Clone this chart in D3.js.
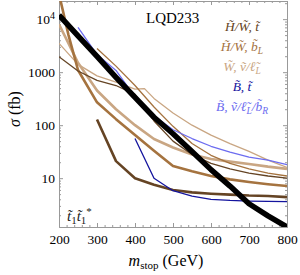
<!DOCTYPE html>
<html><head><meta charset="utf-8">
<script src="https://cdn.jsdelivr.net/npm/d3@7"></script>
<style>
html,body{margin:0;padding:0;background:#fff;}
svg text{font-family:"Liberation Serif","Times New Roman",serif;}
</style></head>
<body><svg id="c" width="300" height="275"></svg>
<script>
// ---- data ----
const xTicks = [200,300,400,500,600,700,800];
const yTicks = [10,100,1000,10000];
const yTickLabels = ["10","100","1000","10^4"];

const blackM = [200,250,300,350,400,450,500,550,600,650,700,750,800];
const blackV = [11900,4860,1980,800,334,141,69,32,14.5,7.1,3.3,1.95,1.2];

const lightBlueM = [250,300,350,400,450,500,550,600,650,700,750,800];
const lightBlueV = [7000,2150,1080,340,150,82,56,40,31,25,22,18];

const darkBlueM = [400,450,500,550,600,650,700,750,800];
const darkBlueV = [56,10,5.8,4.6,4.0,3.8,3.7,3.65,3.6];

const darkBrownThickM = [300,350,400,450,500,550,600,650,700,750,800];
const darkBrownThickV = [128,21,10,7.5,6.0,5.4,5.1,4.9,4.7,4.6,4.4];

const darkBrownThinM = [200,250,300,350,400,450,500,550,600,650,700,750,800];
const darkBrownThinV = [1950,1050,700,560,380,120,50,28,19,15,12.5,11,10];

const medBrownThickM = [200,225,250,300,350,400,450,500,550,600,650,700,750,800];
const medBrownThickV = [30000,5000,1100,270,130,65,33,17,13.5,11,9.5,8.5,7.7,7.1];

const medBrownThinM = [300,350,400,450,500,550,600,650,700,750,800];
const medBrownThinV = [2800,1300,560,220,95,45,27,19,15,12.5,11];

const tanThickM = [200,225,250,300,350,400,450,500,550,600,650,700,750,800];
const tanThickV = [8000,3500,1500,450,200,100,55,38,28,23,20.5,18.5,16.5,15];

const tanThinM = [200,250,300,350,400,425,450,500,550,600,650,700,750,800];
const tanThinV = [3500,1400,850,650,480,490,320,170,100,65,45,32,22,16];

const legendLabels = ["H̃/W̃, t̃","H̃/W̃, b̃L","W̃, ṽ/ℓ̃L","B̃, t̃","B̃, ṽ/ℓ̃L/b̃R"];
const legendColors = ["#654424","#a5733f","#c9a683","#14149e","#6c6cf0"];

// ---- chart ----
const svg = d3.select("#c");
const L=59,R=287,T=1,B=227;
const x = d3.scaleLinear().domain([200,800]).range([L,R]);
const y = d3.scaleLog().domain([1.2,22000]).range([B,T]);

svg.append("defs").append("clipPath").attr("id","clip")
  .append("rect").attr("x",L).attr("y",T).attr("width",R-L).attr("height",B-T);

const xMinor = d3.range(200,801,20).filter(v=>v%100!==0);
const yMinor = [];
[1,10,100,1000,10000].forEach(d=>{for(let k=2;k<=9;k++){const v=d*k; if(v>1.2&&v<22000) yMinor.push(v);}});

const axisColor="#999";
function styleAxis(g){
  g.selectAll("path.domain").attr("stroke",axisColor).attr("stroke-width",1);
  g.selectAll(".tick line").attr("stroke",axisColor);
  g.selectAll("text").attr("fill","#000").style("font-family","Liberation Serif, serif");
}
// bottom
const gxb = svg.append("g").attr("transform",`translate(0,${B})`)
  .call(d3.axisBottom(x).tickValues(xTicks).tickSize(-4).tickSizeOuter(0).tickPadding(7).tickFormat(d3.format("d")));
gxb.attr("font-size",13.5); styleAxis(gxb);
svg.append("g").attr("transform",`translate(0,${B})`)
  .call(d3.axisBottom(x).tickValues(xMinor).tickSize(-2).tickSizeOuter(0).tickFormat("")).call(styleAxis);
// top
svg.append("g").attr("transform",`translate(0,${T})`)
  .call(d3.axisTop(x).tickValues(xTicks).tickSize(-4).tickSizeOuter(0).tickFormat("")).call(styleAxis);
svg.append("g").attr("transform",`translate(0,${T})`)
  .call(d3.axisTop(x).tickValues(xMinor).tickSize(-2).tickSizeOuter(0).tickFormat("")).call(styleAxis);
// left
const gyl = svg.append("g").attr("transform",`translate(${L},0)`)
  .call(d3.axisLeft(y).tickValues(yTicks).tickSize(-4).tickSizeOuter(0).tickPadding(4)
    .tickFormat((d,i)=>yTickLabels[i]));
gyl.attr("font-size",13.5); styleAxis(gyl);
gyl.selectAll(".tick text").each(function(d,i){
  const lab=yTickLabels[i];
  if(lab.includes("^")){
    const [base,exp]=lab.split("^");
    const t=d3.select(this).text("");
    t.append("tspan").text(base);
    t.append("tspan").attr("dy","-0.45em").attr("font-size","10px").text(exp);
  }
});
svg.append("g").attr("transform",`translate(${L},0)`)
  .call(d3.axisLeft(y).tickValues(yMinor).tickSize(-2).tickSizeOuter(0).tickFormat("")).call(styleAxis);
// right
svg.append("g").attr("transform",`translate(${R},0)`)
  .call(d3.axisRight(y).tickValues(yTicks).tickSize(-4).tickSizeOuter(0).tickFormat("")).call(styleAxis);
svg.append("g").attr("transform",`translate(${R},0)`)
  .call(d3.axisRight(y).tickValues(yMinor).tickSize(-2).tickSizeOuter(0).tickFormat("")).call(styleAxis);

// curves
const line = d3.line().x(d=>x(d[0])).y(d=>y(d[1]));
const plot = svg.append("g").attr("clip-path","url(#clip)");
const series = [
  {m:tanThinM, v:tanThinV, c:legendColors[2], w:1.3},
  {m:tanThickM, v:tanThickV, c:legendColors[2], w:2.6},
  {m:medBrownThickM, v:medBrownThickV, c:legendColors[1], w:2.6},
  {m:medBrownThinM, v:medBrownThinV, c:legendColors[1], w:1.3},
  {m:darkBrownThinM, v:darkBrownThinV, c:legendColors[0], w:1.3},
  {m:darkBrownThickM, v:darkBrownThickV, c:legendColors[0], w:2.6},
  {m:lightBlueM, v:lightBlueV, c:legendColors[4], w:1.3},
  {m:darkBlueM, v:darkBlueV, c:legendColors[3], w:1.3},
  {m:blackM, v:blackV, c:"#000", w:5.5}
];
series.forEach(s=>{
  plot.append("path").datum(s.m.map((mm,i)=>[mm,s.v[i]]))
    .attr("d",line).attr("fill","none").attr("stroke",s.c)
    .attr("stroke-width",s.w).attr("stroke-linejoin","round");
});

// labels
svg.append("text").attr("x",146).attr("y",23).attr("font-size",15).text("LQD233");

const leg = svg.append("g").attr("font-size",13.5).attr("font-style","italic").attr("text-anchor","middle");
legendLabels.forEach((lab,i)=>{
  const t = leg.append("text").attr("x",242).attr("y",31+i*20).attr("fill",legendColors[i]);
  const parts = lab.split(/([LR])/).filter(p=>p);
  let pending = 0;
  parts.forEach(p=>{
    if(p==="L"||p==="R"){
      t.append("tspan").attr("dy",3).attr("font-size","9.5px").attr("font-style","italic").text(p);
      pending = -3;
    } else {
      const ts = t.append("tspan").text(p);
      if(pending){ ts.attr("dy",pending); pending=0; }
    }
  });
});

// t1 t1*
const tt = svg.append("text").attr("x",67).attr("y",221).attr("font-size",15).attr("fill","#222");
tt.append("tspan").attr("font-style","italic").text("t̃");
tt.append("tspan").attr("font-size","11px").attr("dy","3").text("1");
tt.append("tspan").attr("font-style","italic").attr("dy","-3").text("t̃");
tt.append("tspan").attr("font-size","11px").attr("dy","3").text("1");
tt.append("tspan").attr("font-size","11px").attr("dy","-9").text("*");

// axis titles
const xl = svg.append("text").attr("x",166).attr("y",266).attr("font-size",16).attr("text-anchor","middle");
xl.append("tspan").attr("font-style","italic").text("m");
xl.append("tspan").attr("font-size","11px").attr("dy","3").text("stop");
xl.append("tspan").attr("dy","-3").text(" (GeV)");

const yl = svg.append("text").attr("transform","translate(20,109) rotate(-90)").attr("font-size",16).attr("text-anchor","middle");
yl.append("tspan").attr("font-style","italic").text("σ");
yl.append("tspan").text(" (fb)");
</script></body></html>
